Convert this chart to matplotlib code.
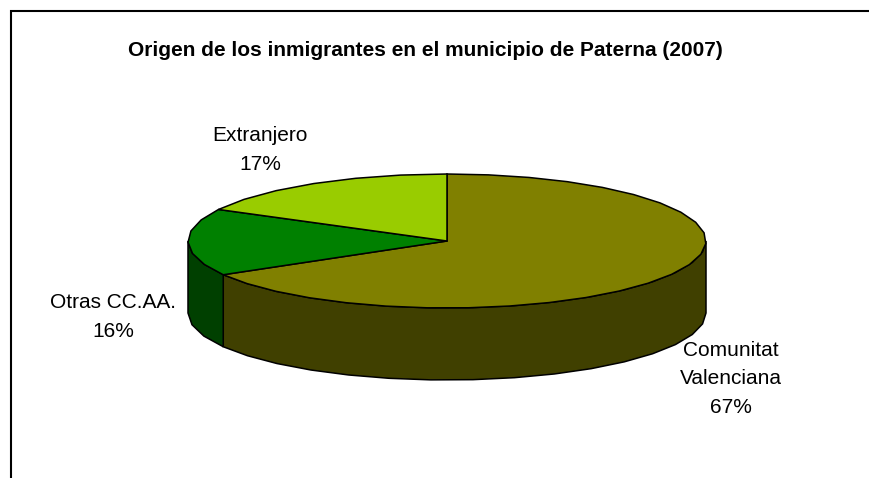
import numpy as np

import matplotlib

matplotlib.use('Agg')
import matplotlib.pyplot as plt
from matplotlib.patches import Polygon

labels = ['Comunitat\nValenciana\n67%', 'Otras CC.AA.\n16%', 'Extranjero\n17%']
values = [66.6, 16.2, 17.2]
top_colors = ['#808000', '#008000', '#99CC00']
side_colors = ['#404000', '#004000', '#4C6600']

# pie geometry, in pixels of the 870x478 picture
W, H = 870, 478
CX, CY = 447, 241
RX, RY = 259, 67
DEPTH = 72


def arc(a0, a1):
    # the original outline is a coarse polygon, so keep the steps visible
    n = max(int((a1 - a0) / 9), 2)
    t = np.radians(np.linspace(a0, a1, n + 1))
    return np.column_stack([CX + RX * np.sin(t), CY - RY * np.cos(t)])


plt.rcParams['font.family'] = ['Liberation Sans', 'DejaVu Sans']

fig = plt.figure(figsize=(W / 100, H / 100), dpi=100)
ax = fig.add_axes([0, 0, 1, 1])
ax.set_xlim(0, W)
ax.set_ylim(H, 0)
ax.axis('off')

# only the top and left of the chart frame are inside the crop
ax.plot([11.5, 11.5, W], [H, 11, 11], color='black', lw=1.5, solid_joinstyle='miter')

angles = np.cumsum([0] + values) / sum(values) * 360

# walls first, only the part of each slice that faces the viewer
for i in range(len(values)):
    a0, a1 = max(angles[i], 90), min(angles[i + 1], 270)
    if a0 >= a1:
        continue
    edge = arc(a0, a1)
    wall = np.vstack([edge, (edge + [0, DEPTH])[::-1]])
    ax.add_patch(Polygon(wall, fc=side_colors[i], ec='black', lw=1.1))

for i in range(len(values)):
    top = np.vstack([[CX, CY], arc(angles[i], angles[i + 1])])
    ax.add_patch(Polygon(top, fc=top_colors[i], ec='black', lw=1.1))

ax.text(425, 50, 'Origen de los inmigrantes en el municipio de Paterna (2007)',
        ha='center', va='center', fontsize=15, fontweight='bold')
ax.text(731, 379, labels[0], ha='center', va='center', fontsize=15, linespacing=1.62)
ax.text(113, 317, labels[1], ha='center', va='center', fontsize=15, linespacing=1.62)
ax.text(260, 150, labels[2], ha='center', va='center', fontsize=15, linespacing=1.62)

fig.savefig('out.png', dpi=100)
